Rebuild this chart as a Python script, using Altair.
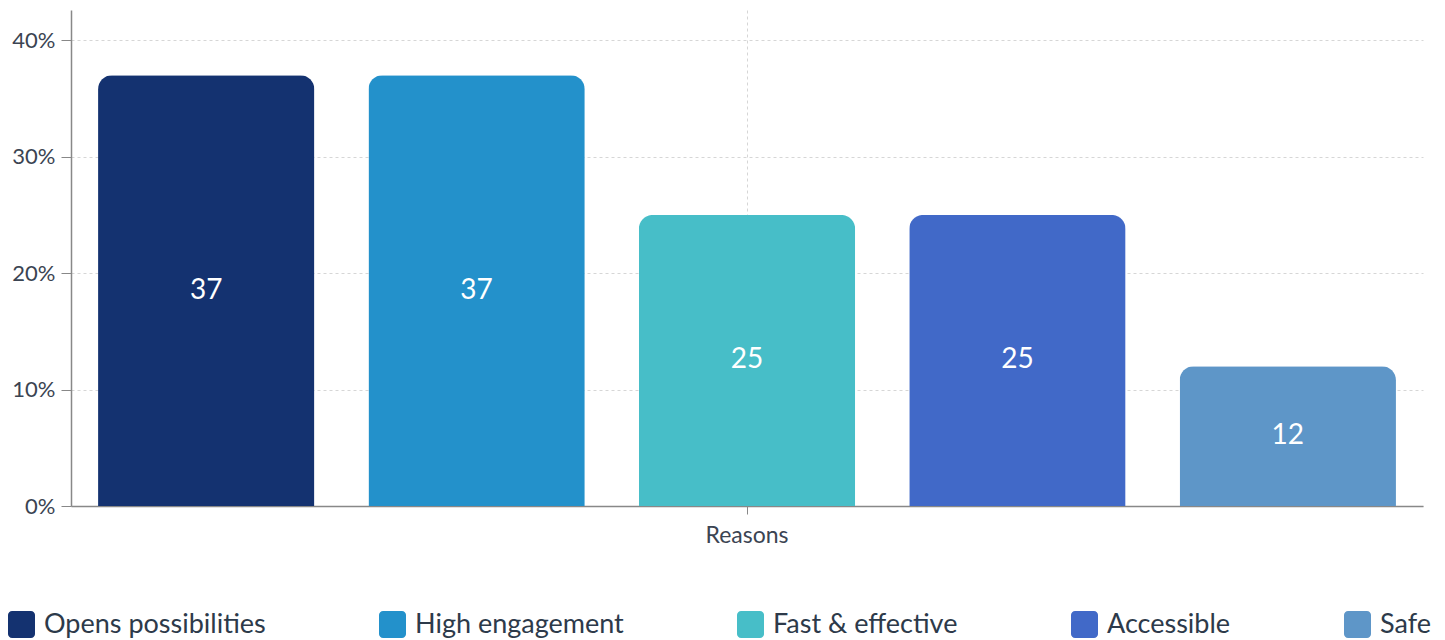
import altair as alt
import pandas as pd

reasons = ["Opens possibilities", "High engagement", "Fast & effective", "Accessible", "Safe"]
values = [37, 37, 25, 25, 12]
colors = ["#143270", "#2391cb", "#47bec8", "#4169c8", "#5e96c8"]
group = "Reasons"

df = pd.DataFrame({"group": [group] * len(reasons), "reason": reasons, "value": values})

FONT = "Lato"
rounded = ("M-1,-0.7 A0.3,0.3 0 0 1 -0.7,-1 L0.7,-1 A0.3,0.3 0 0 1 1,-0.7 "
           "L1,0.7 A0.3,0.3 0 0 1 0.7,1 L-0.7,1 A0.3,0.3 0 0 1 -1,0.7 Z")

x_axis = alt.Axis(labelAngle=0, labelFontSize=23, labelColor="#3b4452", labelFont=FONT,
                  labelPadding=10, tickSize=8, tickColor="#888888", domainColor="#888888",
                  domainWidth=1.5, grid=True, gridColor="#d6d6d6", gridDash=[3, 3])
x_scale = alt.Scale(paddingInner=0, paddingOuter=0)
xo_scale = alt.Scale(paddingInner=0.2, paddingOuter=0.1)

x_enc = alt.X("group:N", title=None, scale=x_scale, axis=x_axis)
xo_enc = alt.XOffset("reason:N", sort=reasons, scale=xo_scale)
y_enc = alt.Y("value:Q", title=None,
              scale=alt.Scale(domain=[0, 42.6], nice=False, zero=True),
              axis=alt.Axis(values=[0, 10, 20, 30, 40], labelExpr="datum.value + '%'",
                            labelFontSize=22, labelColor="#3b4452", labelFont=FONT, labelPadding=6,
                            tickSize=10, tickColor="#888888", domainColor="#888888", domainWidth=1.5,
                            grid=True, gridColor="#d6d6d6", gridDash=[3, 3]))
color_enc = alt.Color("reason:N", sort=reasons,
                      scale=alt.Scale(domain=reasons, range=colors),
                      legend=alt.Legend(title=None, orient="none", legendX=-63, legendY=601,
                                        direction="horizontal", columns=5, columnPadding=113,
                                        symbolType=rounded, symbolSize=729, symbolStrokeWidth=0,
                                        symbolOpacity=1, labelFontSize=27, labelFont=FONT,
                                        labelColor="#2d3a4a", labelOffset=9, labelLimit=400))

bars = alt.Chart(df).mark_bar(cornerRadiusTopLeft=14, cornerRadiusTopRight=14).encode(
    x=x_enc, xOffset=xo_enc, y=y_enc, color=color_enc
)

labels = alt.Chart(df).transform_calculate(mid="datum.value / 2").mark_text(
    color="white", fontSize=28, font=FONT, baseline="middle", align="center"
).encode(
    x=alt.X("group:N", title=None, scale=x_scale, axis=x_axis),
    xOffset=alt.XOffset("reason:N", sort=reasons, scale=xo_scale),
    y=alt.Y("mid:Q"), text=alt.Text("value:Q")
)

chart = (bars + labels).properties(
    width=1352, height=496,
    autosize=alt.AutoSizeParams(type="none"),
    padding={"left": 63, "top": 2, "right": 14, "bottom": 132},
).configure(font=FONT).configure_view(stroke=None, strokeWidth=0)

chart.save("out.html", embed_options={"renderer": "svg", "actions": False})
